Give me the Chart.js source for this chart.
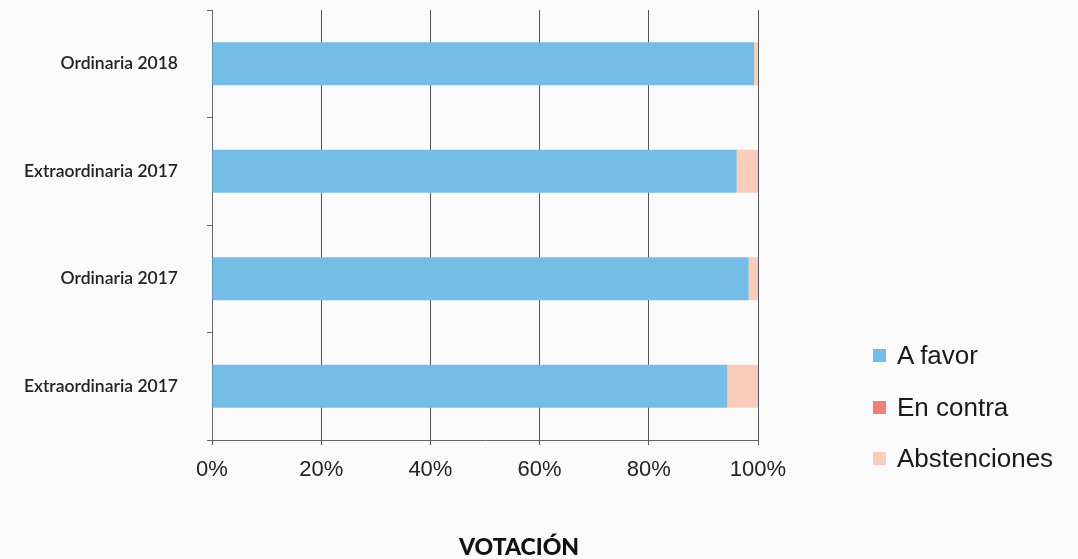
<!DOCTYPE html>
<html>
<head>
<meta charset="utf-8">
<script src="https://cdn.jsdelivr.net/npm/chart.js@4/dist/chart.umd.min.js"></script>
<style>
  html, body { margin: 0; padding: 0; background: #fafafa; }
  #wrap { position: relative; width: 1078px; height: 559px; }
  #c { position: absolute; left: 0; top: 0; }
  #legend { position: absolute; left: 873px; top: 330px; font-family: "Liberation Sans", Arial, sans-serif; font-size: 26px; color: #1a1a1a; }
  #legend .item { display: flex; align-items: center; height: 51.5px; }
  #legend .sw { width: 13px; height: 13px; margin-right: 11px; }
  #xtitle { position: absolute; left: 419px; width: 200px; top: 532px; text-align: center; font-family: Lato, sans-serif; font-weight: 900; font-size: 23px; color: #111; }
</style>
</head>
<body>
<div id="wrap">
  <canvas id="c" width="1078" height="559"></canvas>
  <div id="legend"></div>
  <div id="xtitle">VOTACIÓN</div>
</div>
<script>
const categories = ["Ordinaria 2018", "Extraordinaria 2017", "Ordinaria 2017", "Extraordinaria 2017"];
const aFavor = [99.3, 96.1, 98.3, 94.4];
const enContra = [0, 0, 0, 0];
const abstenciones = [0.7, 3.9, 1.7, 5.6];
const seriesNames = ["A favor", "En contra", "Abstenciones"];
const seriesColors = ["#74bde7", "#ef8079", "#f9cdbb"];
const xTicks = [0, 20, 40, 60, 80, 100];

const ctx = document.getElementById('c').getContext('2d');
const chart = new Chart(ctx, {
  type: 'bar',
  data: {
    labels: categories,
    datasets: [aFavor, enContra, abstenciones].map((d, i) => ({
      label: seriesNames[i],
      data: d,
      backgroundColor: seriesColors[i],
      borderWidth: 0,
      categoryPercentage: 0.8,
      barPercentage: 0.5
    }))
  },
  options: {
    indexAxis: 'y',
    responsive: false,
    animation: false,
    layout: { padding: { left: 0, right: 320, top: 10, bottom: 0 } },
    plugins: { legend: { display: false }, tooltip: { enabled: false } },
    scales: {
      x: {
        stacked: true,
        min: 0, max: 100,
        afterBuildTicks: s => { s.ticks = xTicks.map(v => ({ value: v })); },
        afterFit: s => { s.height = 119; s.paddingTop = 0; s.paddingBottom = 0; },
        grid: { color: '#555', lineWidth: 1, tickLength: 5, drawTicks: true },
        border: { display: true, color: '#666', width: 1 },
        ticks: {
          callback: v => v + '%',
          color: '#222',
          padding: 12,
          maxRotation: 0,
          font: { family: '"Liberation Sans", Arial, sans-serif', size: 22 }
        }
      },
      y: {
        stacked: true,
        afterFit: s => { s.width = 212; s.paddingTop = 0; s.paddingBottom = 0; },
        grid: { drawOnChartArea: false, color: '#666', tickLength: 5, offset: true },
        border: { display: true, color: '#666', width: 1 },
        ticks: {
          color: '#222',
          padding: 29,
          font: { family: 'Lato, sans-serif', size: 17.5, weight: '600' }
        }
      }
    }
  }
});

// HTML legend built from the chart's datasets
const legend = document.getElementById('legend');
chart.data.datasets.forEach(ds => {
  const item = document.createElement('div');
  item.className = 'item';
  const sw = document.createElement('span');
  sw.className = 'sw';
  sw.style.background = ds.backgroundColor;
  const t = document.createElement('span');
  t.textContent = ds.label;
  item.appendChild(sw);
  item.appendChild(t);
  legend.appendChild(item);
});
</script>
</body>
</html>
